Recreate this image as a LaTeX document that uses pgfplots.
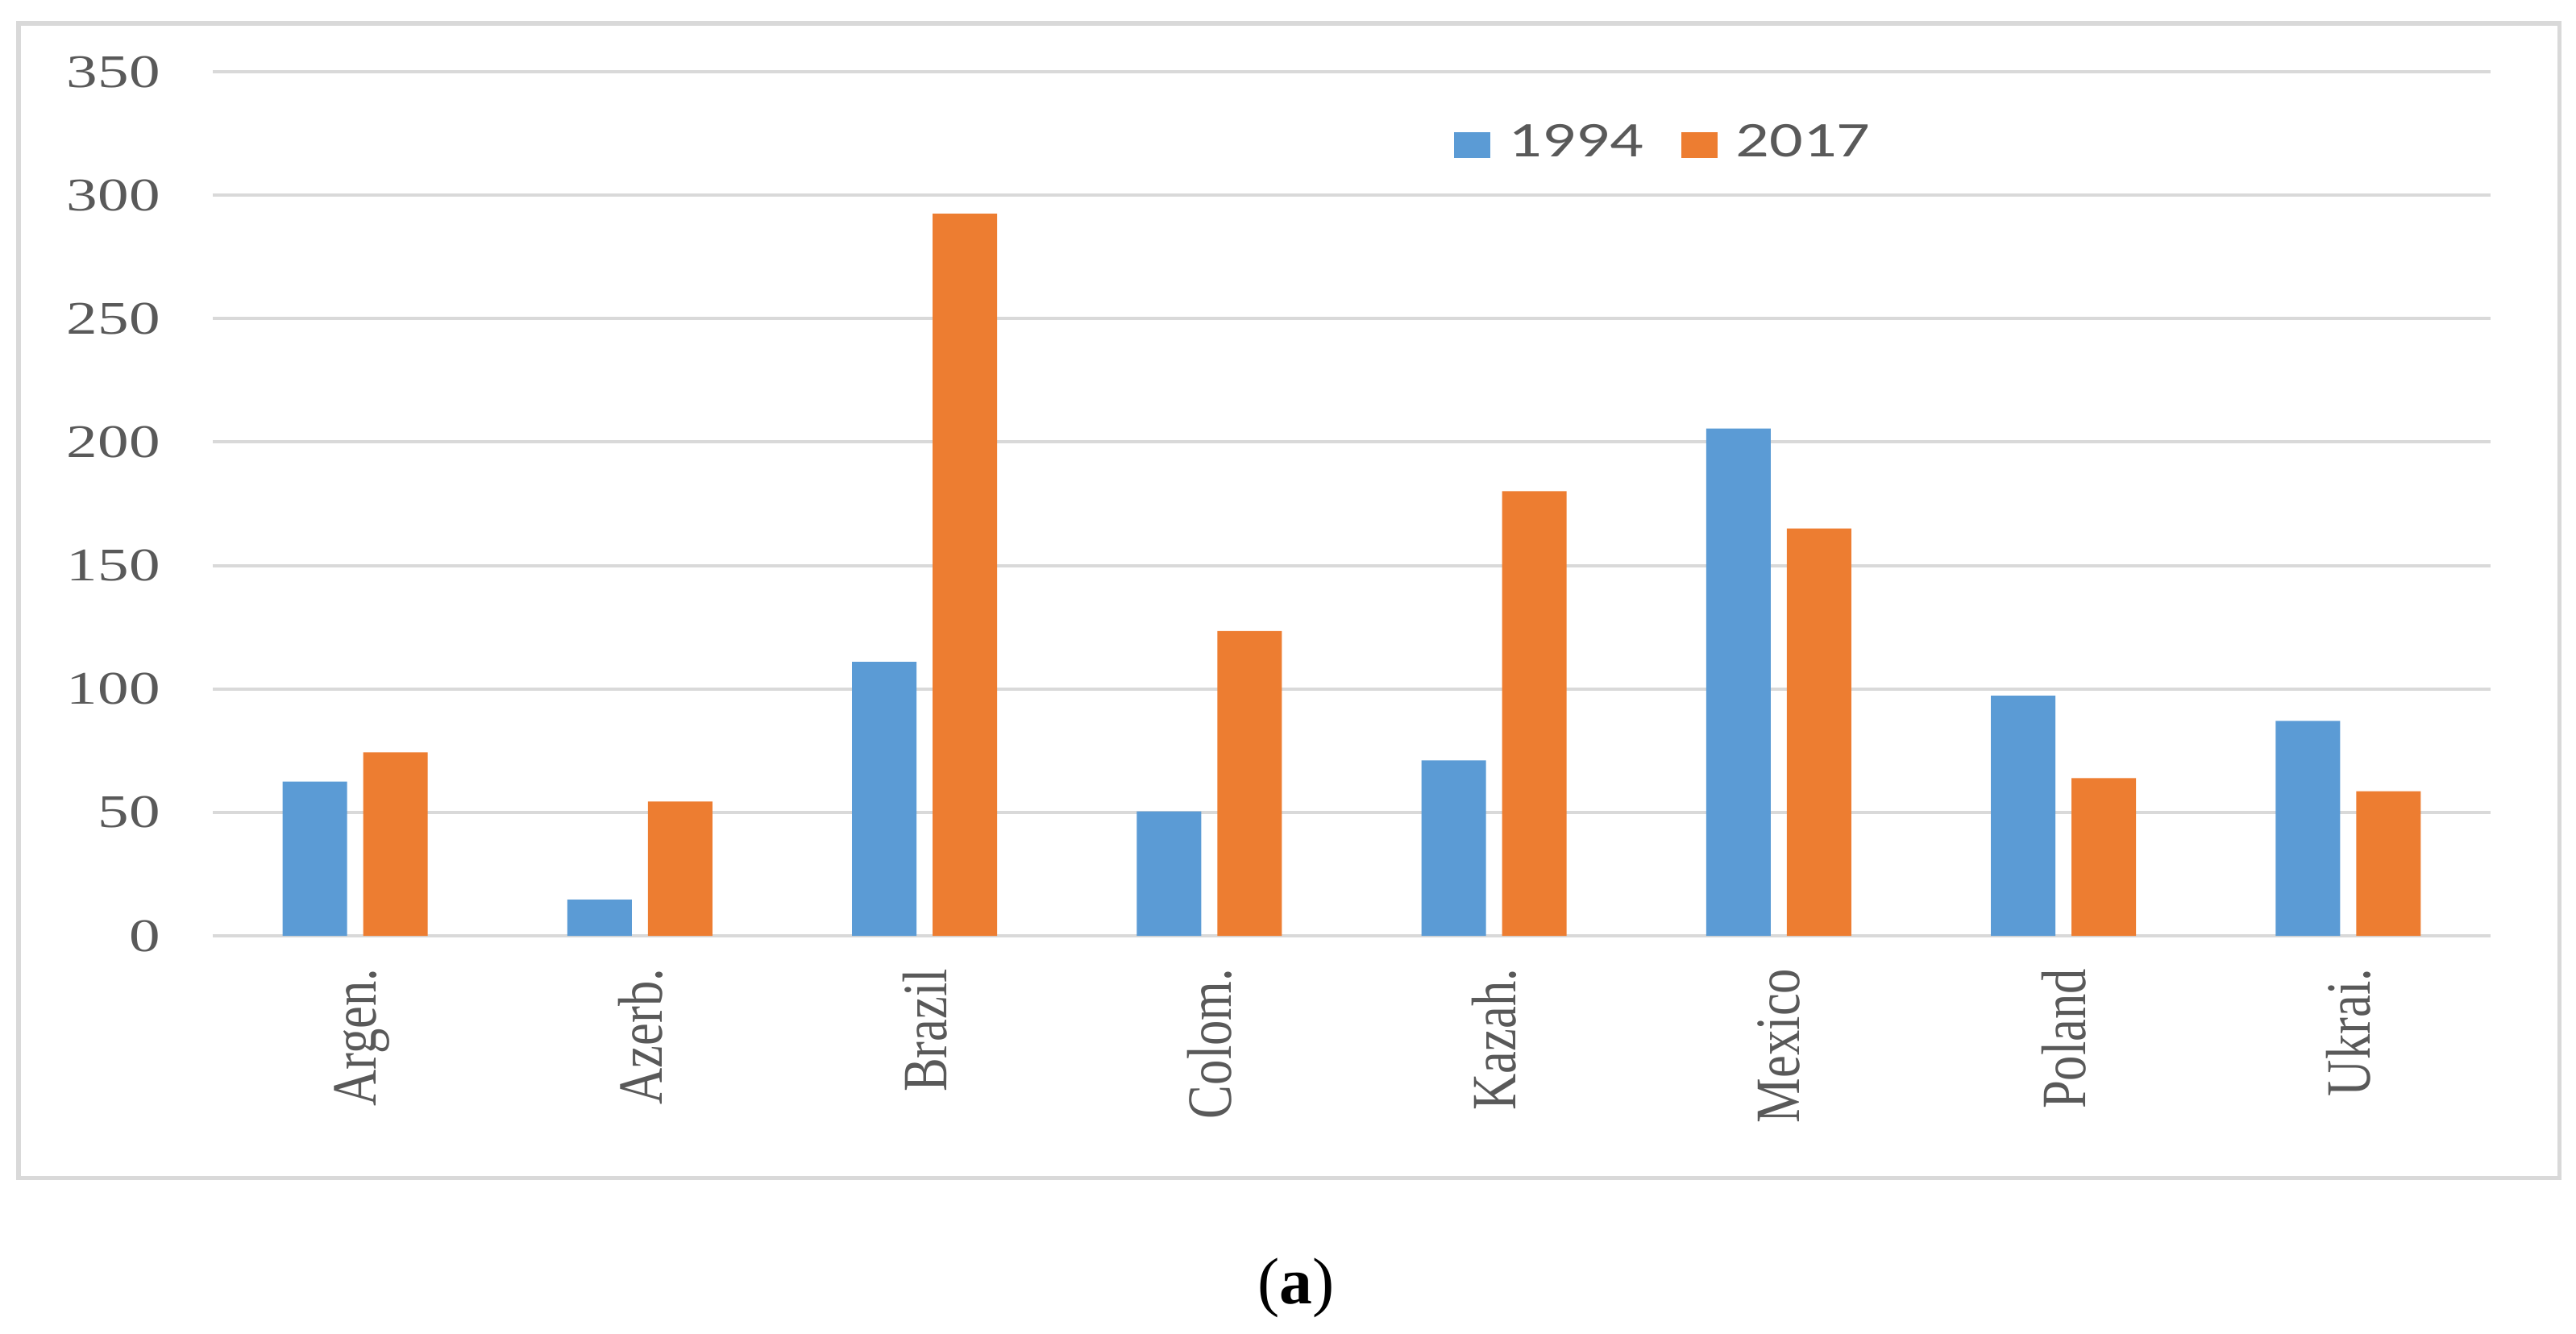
\documentclass[border=0pt]{standalone}
\usepackage{pgfplots}
\pgfplotsset{compat=1.18}
\usepackage{fontspec}
\setmainfont{Liberation Serif}
\newfontfamily\legendfont{Carlito}

\definecolor{bar94}{HTML}{5B9BD5}
\definecolor{bar17}{HTML}{ED7D31}
\definecolor{gridgray}{HTML}{D9D9D9}
\definecolor{textgray}{HTML}{595959}

% the source figure is stretched sideways, so the text is too
\newcommand{\wide}[1]{\scalebox{1.33}[1]{#1}}
\newcommand{\tall}[1]{\scalebox{1.08}[1.35]{#1}}

\begin{document}
\begin{tikzpicture}
\path[use as bounding box] (-38.82pt,-72.5pt) rectangle (431.18pt,170.74pt);
\draw[gridgray, line width=0.75pt] (-35.44pt,-44.12pt) rectangle (428.09pt,166.47pt);

\begin{axis}[
    scale only axis,
    width=415.59pt, height=157.65pt,
    ybar=2.94pt, bar width=11.76pt,
    xmin=-0.5, xmax=7.5,
    ymin=0, ymax=350,
    xtick=data,
    xticklabels={\tall{Argen.},\tall{Azerb.},\tall{Brazil},\tall{Colom.},\tall{Kazah.},\tall{Mexico},\tall{Poland},\tall{Ukrai.}},
    ytick={0,50,100,150,200,250,300,350},
    yticklabels={\wide{0},\wide{50},\wide{100},\wide{150},\wide{200},\wide{250},\wide{300},\wide{350}},
    axis line style={draw=none},
    major tick length=0pt,
    ymajorgrids=true,
    grid style={gridgray, line width=0.6pt},
    ticklabel style={font=\fontsize{8.53}{10}\selectfont, text=textgray},
    yticklabel style={anchor=east, inner sep=0pt, xshift=-9.4pt},
    xticklabel style={yshift=-5.8pt, rotate=90, anchor=east, inner sep=0pt, text depth=0pt},
    legend columns=-1,
    legend image code/.code={\fill[#1] (0pt,-2.35pt) rectangle (6.62pt,2.35pt);},
    legend style={
        at={(0.5446,0.9151)}, anchor=west,
        draw=none, fill=none, inner sep=0pt,
        font=\legendfont\fontsize{9.1}{11}\selectfont, text=textgray,
        nodes={inner sep=0pt},
        /tikz/every odd column/.append style={column sep=3.3pt},
        /tikz/every even column/.append style={column sep=7.0pt},
    },
]
\addplot[fill=bar94, draw=none] coordinates {
    (0,62.5) (1,14.7) (2,111.0) (3,50.4) (4,71.1) (5,205.5) (6,97.3) (7,87.1)
};
\addlegendentry{\wide{1994}}
\addplot[fill=bar17, draw=none] coordinates {
    (0,74.3) (1,54.4) (2,292.5) (3,123.5) (4,180.1) (5,165.0) (6,63.9) (7,58.6)
};
\addlegendentry{\wide{2017}}
\end{axis}

\node at (197.6pt,-64.26pt) {\fontsize{12}{14}\selectfont (\textbf{a})};
\end{tikzpicture}
\end{document}
